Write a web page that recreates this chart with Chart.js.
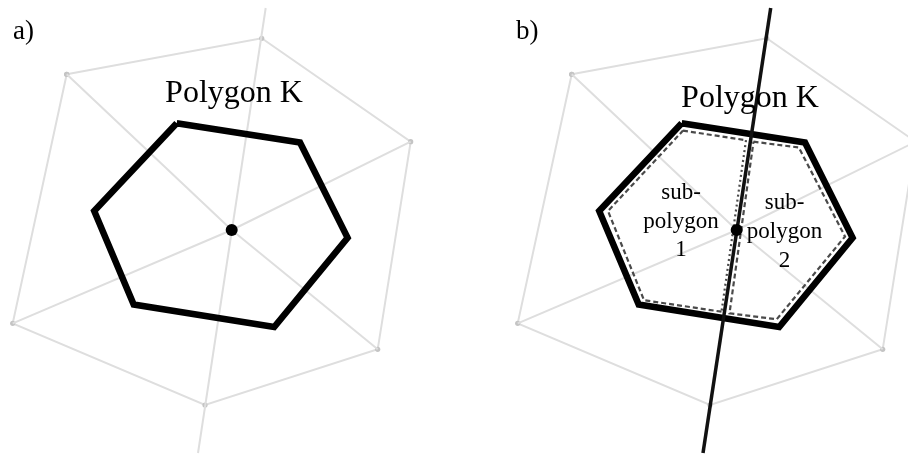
<!DOCTYPE html>
<html>
<head>
<meta charset="utf-8">
<script src="https://cdn.jsdelivr.net/npm/chart.js@4/dist/chart.umd.min.js"></script>
<style>
  html, body { margin: 0; padding: 0; background: #fff; }
  #wrap { width: 908px; height: 454px; }
</style>
</head>
<body>
<div id="wrap"><canvas id="c" width="908" height="454"></canvas></div>
<script>
// Geometry of the figure, in the frame of panel a (panel b reuses it on a shifted x axis)
const centre = [{ x: 231.7, y: 230 }];
const outerHex = [
  { x: 66.7, y: 74.3 }, { x: 261.7, y: 38.3 }, { x: 410.7, y: 141.7 },
  { x: 377.7, y: 349.3 }, { x: 205, y: 405 }, { x: 12.7, y: 323.3 }
];
const spokeTips = [outerHex[0], outerHex[2], outerHex[3], outerHex[5]];
const cutLine = [{ x: 265.7, y: 8 }, { x: 198, y: 453 }];
const polygonK = [
  { x: 176.7, y: 123.3 }, { x: 300, y: 142.5 }, { x: 347.6, y: 237.7 },
  { x: 274.2, y: 327 }, { x: 133.7, y: 304.5 }, { x: 94.2, y: 211 }
];
const subPolygon1 = [
  { x: 178, y: 130.6 }, { x: 241, y: 140.2 }, { x: 216.5, y: 311.7 },
  { x: 139, y: 300.2 }, { x: 103, y: 211 }
];
const subPolygon2 = [
  { x: 248.5, y: 141.7 }, { x: 293.8, y: 147.5 }, { x: 340, y: 236.5 },
  { x: 271.7, y: 319.3 }, { x: 224.5, y: 313.3 }
];

// Text set on the figure
const panelTitles = ['a)', 'b)'];
const shapeName = 'Polygon K';
const subNames = [['sub-', 'polygon', '1'], ['sub-', 'polygon', '2']];

const closed = pts => pts.concat([pts[0]]);
const GREY = '#dedede';

function path(points, axis, style) {
  return Object.assign({
    data: points, xAxisID: axis, yAxisID: 'y', showLine: true,
    pointRadius: 0, pointHoverRadius: 0, borderJoinStyle: 'miter', borderCapStyle: 'butt',
    fill: false, tension: 0
  }, style);
}

const datasets = [];
['x', 'xb'].forEach(axis => {
  // light construction lines
  datasets.push(path(closed(outerHex), axis, {
    borderColor: GREY, borderWidth: 2, order: 9,
    pointRadius: 2.6, pointBackgroundColor: '#c4c4c4', pointBorderWidth: 0
  }));
  spokeTips.forEach(p => datasets.push(path([p, centre[0]], axis, {
    borderColor: GREY, borderWidth: 2, order: 8
  })));
  // polygon K
  datasets.push(path(closed(polygonK), axis, {
    borderColor: '#000', borderWidth: 6.5, order: 5
  }));
  datasets.push(path(centre, axis, {
    showLine: false, pointRadius: 6, pointBackgroundColor: '#000',
    pointBorderWidth: 0, order: 0
  }));
});
// panel a: the splitting line stays light
datasets.push(path(cutLine, 'x', { borderColor: GREY, borderWidth: 2, order: 8 }));
// panel b: the split and its two parts
datasets.push(path(closed(subPolygon1), 'xb', {
  borderColor: '#4a4a4a', borderWidth: 2.2, borderDash: [5, 3], order: 3,
  segment: { borderDash: c => c.p0DataIndex === 1 ? [2, 3] : [5, 3] }
}));
datasets.push(path(closed(subPolygon2), 'xb', {
  borderColor: '#4a4a4a', borderWidth: 2.2, borderDash: [5, 3], order: 3
}));
datasets.push(path(cutLine, 'xb', { borderColor: '#111', borderWidth: 3.5, order: 1 }));

// where the captions sit (panel frame, baseline of first line)
const captions = [
  { axis: 'x',  x: 13,    y: 38.5,  size: 27, align: 'left',   lines: [panelTitles[0]] },
  { axis: 'xb', x: 11,    y: 38.5,  size: 27, align: 'left',   lines: [panelTitles[1]] },
  { axis: 'x',  x: 234,   y: 102,   size: 32, align: 'center', lines: [shapeName] },
  { axis: 'xb', x: 245,   y: 106.5, size: 32, align: 'center', lines: [shapeName] },
  { axis: 'xb', x: 176,   y: 199,   size: 23, align: 'center', lines: subNames[0], lead: 28.7 },
  { axis: 'xb', x: 279.5, y: 208.5, size: 23, align: 'center', lines: subNames[1], lead: 29 }
];

const captionPlugin = {
  id: 'captions',
  afterDatasetsDraw(chart) {
    const ctx = chart.ctx, ys = chart.scales.y;
    captions.forEach(c => {
      const xs = chart.scales[c.axis];
      ctx.save();
      ctx.font = c.size + 'px "Liberation Serif", "Times New Roman", serif';
      ctx.fillStyle = '#000';
      ctx.textAlign = c.align;
      ctx.textBaseline = 'alphabetic';
      c.lines.forEach((t, i) => {
        ctx.fillText(t, xs.getPixelForValue(c.x), ys.getPixelForValue(c.y + i * (c.lead || 0)));
      });
      ctx.restore();
    });
  }
};

new Chart(document.getElementById('c'), {
  type: 'scatter',
  data: { datasets },
  options: {
    responsive: false,
    animation: false,
    events: [],
    layout: { padding: 0, autoPadding: false },
    plugins: { legend: { display: false }, tooltip: { enabled: false } },
    scales: {
      x:  { type: 'linear', min: 0,    max: 908, display: false },
      xb: { type: 'linear', min: -505, max: 403, display: false },
      y:  { type: 'linear', min: 0,    max: 454, reverse: true, display: false }
    }
  },
  plugins: [captionPlugin]
});
</script>
</body>
</html>
